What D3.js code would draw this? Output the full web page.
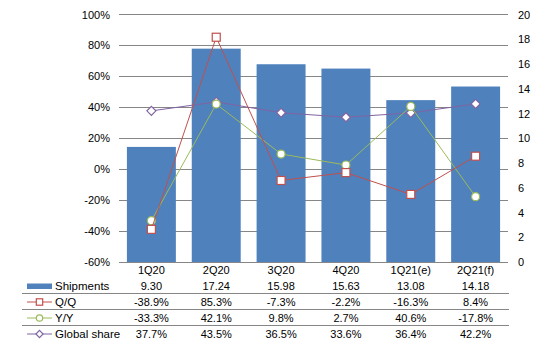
<!DOCTYPE html>
<html><head><meta charset="utf-8">
<script src="https://cdn.jsdelivr.net/npm/d3@7"></script>
<style>body{margin:0;background:#fff}svg{display:block;font-family:"Liberation Sans",Arial,sans-serif}</style>
</head><body><svg id="c" width="539" height="350"></svg>
<script>
const categories = ["1Q20","2Q20","3Q20","4Q20","1Q21(e)","2Q21(f)"];
const shipments = [9.30,17.24,15.98,15.63,13.08,14.18];
const qoq = [-38.9,85.3,-7.3,-2.2,-16.3,8.4];
const yoy = [-33.3,42.1,9.8,2.7,40.6,-17.8];
const share = [37.7,43.5,36.5,33.6,36.4,42.2];
const leftTicks = [-60,-40,-20,0,20,40,60,80,100];
const rightTicks = [0,2,4,6,8,10,12,14,16,18,20];
const shipLabels = ["9.30","17.24","15.98","15.63","13.08","14.18"];

const svg = d3.select("#c");
const L = 119, R = 508, T = 14.5, B = 262;
const x = d3.scaleBand().domain(categories).range([L,R]).paddingInner(0.245).paddingOuter(0.122);
const yL = d3.scaleLinear().domain([-60,100]).range([B,T]);
const yR = d3.scaleLinear().domain([0,20]).range([B,T]);
const cx = c => x(c) + x.bandwidth()/2;
const fs = 11;
const C = {bar:"#4F81BD", q:"#C0504D", y:"#9BBB59", s:"#8064A2", grid:"#868686"};

// gridlines
svg.append("g").selectAll("line").data(leftTicks).join("line")
  .attr("x1",L).attr("x2",R).attr("y1",d=>yL(d)).attr("y2",d=>yL(d))
  .attr("stroke",C.grid).attr("stroke-width",1).attr("shape-rendering","crispEdges");

// left axis labels
const axL = svg.append("g").attr("transform",`translate(${L},0)`)
  .call(d3.axisLeft(yL).tickValues(leftTicks).tickSize(0).tickPadding(9).tickFormat(d=>d+"%"));
axL.select(".domain").remove();
axL.selectAll("text").attr("font-size",fs).attr("fill","#000").attr("font-family","Liberation Sans, Arial");

const axR = svg.append("g").attr("transform",`translate(${R},0)`)
  .call(d3.axisRight(yR).tickValues(rightTicks).tickSize(0).tickPadding(10));
axR.select(".domain").remove();
axR.selectAll("text").attr("font-size",fs).attr("fill","#000").attr("font-family","Liberation Sans, Arial");

// bars
svg.append("g").selectAll("rect").data(shipments).join("rect")
  .attr("x",(d,i)=>x(categories[i])).attr("width",x.bandwidth())
  .attr("y",d=>yR(d)).attr("height",d=>yR(0)-yR(d)).attr("fill",C.bar);

// lines
function series(vals,color,shape){
  const line = d3.line().x((d,i)=>cx(categories[i])).y(d=>yL(d));
  svg.append("path").datum(vals).attr("d",line).attr("fill","none").attr("stroke",color).attr("stroke-width",1);
  const g = svg.append("g");
  vals.forEach((v,i)=>marker(g,cx(categories[i]),yL(v),color,shape));
}
function marker(g,px,py,color,shape,small){
  const s = small?0.8:1;
  if(shape==="square") g.append("rect").attr("x",px-4*s).attr("y",py-4*s).attr("width",8*s).attr("height",8*s).attr("fill","#fff").attr("stroke",color).attr("stroke-width",1.2);
  else if(shape==="circle") g.append("circle").attr("cx",px).attr("cy",py).attr("r",4*s).attr("fill","#fff").attr("stroke",color).attr("stroke-width",1.2);
  else g.append("path").attr("d",`M${px},${py-4.5*s}L${px+4.5*s},${py}L${px},${py+4.5*s}L${px-4.5*s},${py}Z`).attr("fill","#fff").attr("stroke",color).attr("stroke-width",1.2);
}
series(share,C.s,"diamond");
series(yoy,C.y,"circle");
series(qoq,C.q,"square");

// data table
const rowY = [270,286,302,318,334];
const fmtP = v => v.toFixed(1)+"%";
const rows = [categories, shipLabels, qoq.map(fmtP), yoy.map(fmtP), share.map(fmtP)];
const tg = svg.append("g").attr("font-size",fs).attr("fill","#000");
rows.forEach((r,ri)=>{
  tg.append("g").selectAll("text").data(r).join("text")
    .attr("x",(d,i)=>cx(categories[i])).attr("y",rowY[ri]).attr("dy","0.35em")
    .attr("text-anchor","middle").text(d=>d);
});
// separators
[293.5,309.5,325.5].forEach(yy=>{
  svg.append("line").attr("x1",22).attr("x2",R+1).attr("y1",yy).attr("y2",yy)
    .attr("stroke",C.grid).attr("stroke-width",1).attr("shape-rendering","crispEdges");
});
// legend keys
const legend = [["Shipments",C.bar,"bar"],["Q/Q",C.q,"square"],["Y/Y",C.y,"circle"],["Global share",C.s,"diamond"]];
legend.forEach((d,i)=>{
  const yy = rowY[i+1];
  if(d[2]==="bar"){
    svg.append("rect").attr("x",27).attr("y",yy-2.5).attr("width",25).attr("height",5.5).attr("fill",d[1]);
  } else {
    svg.append("line").attr("x1",27).attr("x2",52).attr("y1",yy).attr("y2",yy).attr("stroke",d[1]).attr("stroke-width",1);
    marker(svg,39.5,yy,d[1],d[2],true);
  }
  svg.append("text").attr("x",55).attr("y",yy).attr("dy","0.35em").attr("font-size",fs+0.5).text(d[0]);
});
</script></body></html>
